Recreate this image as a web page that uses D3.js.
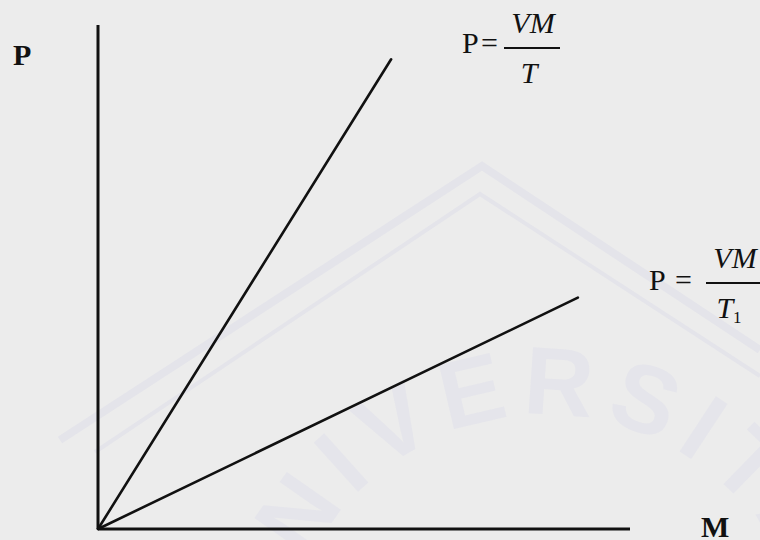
<!DOCTYPE html>
<html>
<head>
<meta charset="utf-8">
<script src="https://cdn.jsdelivr.net/npm/d3@7"></script>
<style>
  html, body { margin: 0; padding: 0; background: #ececec; }
  svg { display: block; }
  text { font-family: "Liberation Serif", "DejaVu Serif", serif; fill: #111; }
</style>
</head>
<body>
<div id="chart"></div>
<script>
// axis extents (unit scale, M horizontal, P vertical)
const mDomain = [0, 1];
const pDomain = [0, 1];

// two lines through the origin: P = VM/T and P = VM/T1
const seriesNames = ["T", "T1"];
const seriesM = [[0, 0.551], [0, 0.902]];
const seriesP = [[0, 0.932], [0, 0.459]];

const axisLabels = ["P", "M"];

const width = 760, height = 540;

const svg = d3.select("#chart")
    .append("svg")
    .attr("width", width)
    .attr("height", height);

svg.append("rect")
    .attr("width", width)
    .attr("height", height)
    .attr("fill", "#ececec");

// faint scan watermark
let wm = svg.append("g").attr("fill", "none").attr("stroke", "#e4e4ea");
wm.append("polyline")
    .attr("points", "60,440 482,166 760,350")
    .attr("stroke-width", 8);
wm.append("polyline")
    .attr("points", "95,452 480,194 760,376")
    .attr("stroke-width", 4);
svg.append("path")
    .attr("id", "wmArc")
    .attr("fill", "none")
    .attr("d", "M 280,680 A 265,265 0 0 1 810,680");
svg.append("text")
    .style("font-size", "96px")
    .style("font-weight", "bold")
    .style("font-family", "'Liberation Sans', sans-serif")
    .style("fill", "#e5e5eb")
    .append("textPath")
    .attr("href", "#wmArc")
    .attr("startOffset", 40)
    .attr("letter-spacing", "12")
    .text("UNIVERSITAS");

let x = d3.scaleLinear().domain(mDomain).range([98, 630]);
let y = d3.scaleLinear().domain(pDomain).range([529, 25]);

let line = d3.line()
    .x(d => x(d[0]))
    .y(d => y(d[1]));

// axes
svg.append("path")
    .attr("d", line([[0, 0], [0, 1]]))
    .attr("stroke", "#111")
    .attr("stroke-width", 3)
    .attr("fill", "none");
svg.append("path")
    .attr("d", line([[0, 0], [1, 0]]))
    .attr("stroke", "#111")
    .attr("stroke-width", 3)
    .attr("fill", "none");

// the two lines
seriesNames.forEach((name, i) => {
    let pts = seriesM[i].map((m, j) => [m, seriesP[i][j]]);
    svg.append("path")
        .attr("class", "series-" + name)
        .attr("d", line(pts))
        .attr("stroke", "#111")
        .attr("stroke-width", 2.6)
        .attr("stroke-linecap", "round")
        .attr("fill", "none");
});

// axis labels
svg.append("text")
    .attr("x", 13).attr("y", 65)
    .attr("font-size", "30px")
    .attr("font-weight", "bold")
    .text(axisLabels[0]);
svg.append("text")
    .attr("x", 701).attr("y", 537)
    .attr("font-size", "30px")
    .attr("font-weight", "bold")
    .text(axisLabels[1]);

// formula labels
function formula(px, eqx, barX0, barX1, baseY, barY, sub) {
    let g = svg.append("g").attr("font-size", "30px");
    g.append("text").attr("x", px).attr("y", baseY).text("P");
    g.append("text").attr("x", eqx).attr("y", baseY).text("=");
    g.append("line")
        .attr("x1", barX0).attr("x2", barX1)
        .attr("y1", barY).attr("y2", barY)
        .attr("stroke", "#111").attr("stroke-width", 2);
    let mid = (barX0 + barX1) / 2;
    g.append("text")
        .attr("x", mid + 1).attr("y", barY - 15)
        .attr("text-anchor", "middle")
        .attr("font-style", "italic")
        .text("VM");
    let t = g.append("text")
        .attr("x", mid - (sub ? 5 : 3)).attr("y", barY + 35)
        .attr("text-anchor", "middle")
        .attr("font-style", "italic")
        .text("T");
    if (sub) {
        t.append("tspan")
            .attr("font-style", "normal")
            .attr("font-size", "17px")
            .attr("dy", 5)
            .text(sub);
    }
}

formula(462, 481, 504, 560, 53, 48, null);
formula(649, 675, 706, 762, 290, 283, "1");
</script>
</body>
</html>
